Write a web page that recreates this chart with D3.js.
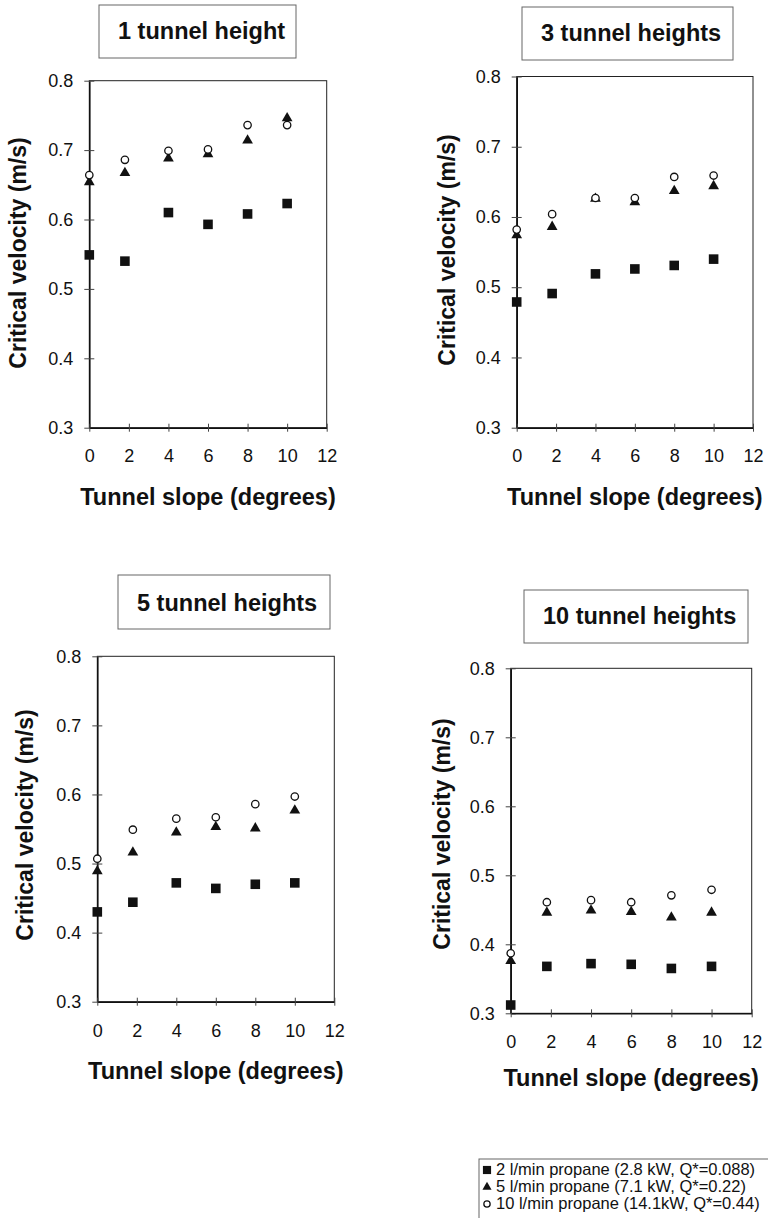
<!DOCTYPE html>
<html>
<head>
<meta charset="utf-8">
<script src="https://cdn.jsdelivr.net/npm/d3@7"></script>
<style>
  body { margin: 0; background: #fff; }
  svg { display: block; font-family: "Liberation Sans", Arial, sans-serif; }
</style>
</head>
<body>
<svg id="chart" width="768" height="1218"></svg>
<script>
// slope values where the runs were made (the "2" runs sit a bit left of the tick)
const slopes = [0, 1.8, 4, 6, 8, 10];
const xTicks = [0, 2, 4, 6, 8, 10, 12];
const yTicks = [0.3, 0.4, 0.5, 0.6, 0.7, 0.8];
const panelTitles = ["1 tunnel height", "3 tunnel heights", "5 tunnel heights", "10 tunnel heights"];
const seriesNames = [
  "2 l/min propane (2.8 kW, Q*=0.088)",
  "5 l/min propane (7.1 kW, Q*=0.22)",
  "10 l/min propane (14.1kW, Q*=0.44)"
];

// critical velocity (m/s)
const low1  = [0.549, 0.540, 0.610, 0.593, 0.608, 0.623];
const mid1  = [0.654, 0.667, 0.688, 0.694, 0.714, 0.746];
const high1 = [0.664, 0.686, 0.699, 0.701, 0.736, 0.736];

const low3  = [0.479, 0.491, 0.519, 0.526, 0.531, 0.540];
const mid3  = [0.574, 0.586, 0.626, 0.621, 0.637, 0.644];
const high3 = [0.582, 0.604, 0.627, 0.627, 0.657, 0.659];

const low5  = [0.430, 0.444, 0.472, 0.464, 0.470, 0.472];
const mid5  = [0.489, 0.516, 0.545, 0.553, 0.551, 0.577];
const high5 = [0.507, 0.549, 0.565, 0.567, 0.586, 0.597];

const low10  = [0.312, 0.368, 0.372, 0.371, 0.365, 0.368];
const mid10  = [0.376, 0.446, 0.449, 0.447, 0.439, 0.446];
const high10 = [0.387, 0.461, 0.464, 0.461, 0.471, 0.479];

const panelData = [
  [low1, mid1, high1],
  [low3, mid3, high3],
  [low5, mid5, high5],
  [low10, mid10, high10]
];

// where each panel sits on the page
const layout = [
  { l: 89.3,  r: 326.7, t: 80.7,  b: 427.7,  box: [99, 5, 197, 53],   tx: 118, ty: 38.5, yx: 18,  yy: 253, xty: 505,  tly: 462 },
  { l: 516.7, r: 753,   t: 76.5,  b: 427.7,  box: [522, 7, 211, 53],  tx: 541, ty: 41,   yx: 447, yy: 250, xty: 505,  tly: 462 },
  { l: 97.3,  r: 334.3, t: 656.3, b: 1001.7, box: [118, 575, 212, 54], tx: 137, ty: 611, yx: 25,  yy: 825, xty: 1079, tly: 1037 },
  { l: 510.7, r: 751.7, t: 668.3, b: 1013.3, box: [524, 590, 224, 53], tx: 543, ty: 624, yx: 442, yy: 834, xty: 1086, tly: 1048 }
];

const svg = d3.select("#chart");
const ink = "#111";

const sqPath = d3.symbol().type(d3.symbolSquare).size(92)();
const triPath = d3.symbol().type(d3.symbolTriangle).size(50)();

function drawMarker(g, kind, x, y, scale) {
  if (kind === 0) {
    g.append("path").attr("d", sqPath).attr("fill", ink)
      .attr("transform", `translate(${x},${y}) scale(${scale})`);
  } else if (kind === 1) {
    g.append("path").attr("d", triPath).attr("fill", ink)
      .attr("transform", `translate(${x},${y}) scale(${scale})`);
  } else {
    g.append("circle").attr("cx", x).attr("cy", y).attr("r", 3.7 * scale)
      .attr("fill", "#fff").attr("stroke", ink).attr("stroke-width", 1.3);
  }
}

panelData.forEach((series, i) => {
  const p = layout[i];
  const g = svg.append("g");

  const x = d3.scaleLinear().domain([0, 12]).range([p.l, p.r]);
  const y = d3.scaleLinear().domain([0.3, 0.8]).range([p.b, p.t]);

  // title box
  g.append("rect")
    .attr("x", p.box[0]).attr("y", p.box[1])
    .attr("width", p.box[2]).attr("height", p.box[3])
    .attr("fill", "#fff").attr("stroke", "#666").attr("stroke-width", 1);
  g.append("text")
    .attr("x", p.tx).attr("y", p.ty)
    .attr("font-size", 23.5).attr("font-weight", "bold").attr("fill", ink)
    .text(panelTitles[i]);

  // plot frame
  g.append("rect")
    .attr("x", p.l).attr("y", p.t)
    .attr("width", p.r - p.l).attr("height", p.b - p.t)
    .attr("fill", "none").attr("stroke", "#222").attr("stroke-width", 1);

  const yAxis = g.append("g")
    .attr("transform", `translate(${p.l},0)`)
    .call(d3.axisLeft(y).tickValues(yTicks).tickFormat(d3.format(".1f"))
      .tickSizeInner(5).tickSizeOuter(0).tickPadding(11));
  yAxis.select(".domain").attr("stroke", ink).attr("stroke-width", 1.6);
  yAxis.selectAll(".tick line").attr("x1", 5).attr("stroke", "#444");
  yAxis.selectAll(".tick text").attr("font-size", 18).attr("fill", ink)
    .attr("font-family", "Liberation Sans, Arial, sans-serif");

  const pad = p.tly - p.b - 12.8 - 4;
  const xAxis = g.append("g")
    .attr("transform", `translate(0,${p.b})`)
    .call(d3.axisBottom(x).tickValues(xTicks)
      .tickSizeInner(4).tickSizeOuter(0).tickPadding(pad));
  xAxis.select(".domain").attr("stroke", ink).attr("stroke-width", 1.6);
  xAxis.selectAll(".tick line").attr("y1", -4).attr("stroke", "#444");
  xAxis.selectAll(".tick text").attr("font-size", 18).attr("fill", ink)
    .attr("font-family", "Liberation Sans, Arial, sans-serif");

  // axis titles
  g.append("text")
    .attr("transform", `translate(${p.yx},${p.yy}) rotate(-90)`)
    .attr("text-anchor", "middle").attr("dominant-baseline", "central")
    .attr("font-size", 23).attr("font-weight", "bold").attr("fill", ink)
    .text("Critical velocity (m/s)");
  g.append("text")
    .attr("x", (p.l + p.r) / 2).attr("y", p.xty)
    .attr("text-anchor", "middle")
    .attr("font-size", 23.5).attr("font-weight", "bold").attr("fill", ink)
    .text("Tunnel slope (degrees)");

  // points: squares, then triangles, then circles on top
  series.forEach((vals, k) => {
    vals.forEach((v, j) => drawMarker(g, k, x(slopes[j]), y(v), 1));
  });
});

// legend
const leg = svg.append("g");
leg.append("rect")
  .attr("x", 479).attr("y", 1159).attr("width", 300).attr("height", 80)
  .attr("fill", "#fff").attr("stroke", "#666").attr("stroke-width", 1);
seriesNames.forEach((name, k) => {
  const by = 1175 + k * 17;
  drawMarker(leg, k, 487, by - 5, 0.85);
  leg.append("text")
    .attr("x", 496).attr("y", by)
    .attr("font-size", 16.5).attr("fill", ink)
    .text(name);
});
</script>
</body>
</html>
